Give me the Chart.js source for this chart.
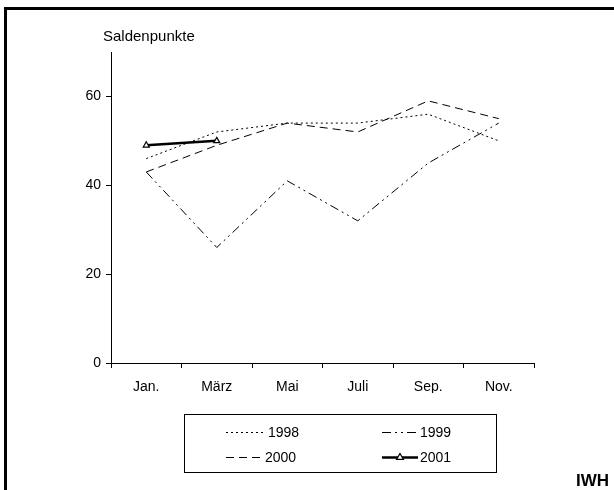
<!DOCTYPE html>
<html>
<head>
<meta charset="utf-8">
<script src="https://cdn.jsdelivr.net/npm/chart.js@4"></script>
<style>
  html, body { margin: 0; padding: 0; background: #fff; }
  canvas { display: block; }
</style>
</head>
<body>
<canvas id="chart" width="614" height="490"></canvas>
<script>
// Months shown on the x axis
const months = ["Jan.", "März", "Mai", "Juli", "Sep.", "Nov."];
const yTicks = [0, 20, 40, 60];

// Saldenpunkte per year
const y1998 = [46, 52, 54, 54, 56, 50];
const y1999 = [43, 26, 41, 32, 45, 54];
const y2000 = [43, 49, 54, 52, 59, 55];
const y2001 = [49, 50, null, null, null, null];

const FONT = "'Liberation Sans', Arial, sans-serif";

// Frame, title, legend box and the IWH mark
const extras = {
  id: "extras",
  afterDraw(chart) {
    const ctx = chart.ctx;
    ctx.save();

    // frame (top and left edges)
    ctx.fillStyle = "#000";
    ctx.fillRect(4, 7, 610, 3);
    ctx.fillRect(4, 7, 3, 483);

    // axis title
    ctx.font = "15px " + FONT;
    ctx.textBaseline = "alphabetic";
    ctx.textAlign = "left";
    ctx.fillText("Saldenpunkte", 103, 41);

    // legend
    ctx.strokeStyle = "#000";
    ctx.lineWidth = 1;
    ctx.strokeRect(184.5, 414.5, 312, 58);

    const slots = [
      { x1: 226, x2: 266, y: 432 },
      { x1: 382, x2: 418, y: 432 },
      { x1: 226, x2: 263, y: 457 },
      { x1: 382, x2: 418, y: 457 },
    ];
    ctx.font = "14px " + FONT;
    ctx.textBaseline = "middle";
    chart.data.datasets.forEach((ds, i) => {
      const s = slots[i];
      ctx.beginPath();
      ctx.setLineDash(ds.borderDash || []);
      ctx.lineWidth = ds.borderWidth;
      ctx.moveTo(s.x1, s.y + 0.5);
      ctx.lineTo(s.x2, s.y + 0.5);
      ctx.stroke();
      ctx.setLineDash([]);
      if (ds.pointRadius > 0) {
        const mx = (s.x1 + s.x2) / 2;
        const r = ds.pointRadius;
        ctx.beginPath();
        ctx.moveTo(mx, s.y - r);
        ctx.lineTo(mx + r, s.y + r * 0.7);
        ctx.lineTo(mx - r, s.y + r * 0.7);
        ctx.closePath();
        ctx.fillStyle = "#fff";
        ctx.fill();
        ctx.lineWidth = 1.2;
        ctx.stroke();
        ctx.fillStyle = "#000";
      }
      ctx.fillText(ds.label, s.x2 + 2, s.y + 1);
    });

    // source mark
    ctx.font = "bold 17px " + FONT;
    ctx.textBaseline = "alphabetic";
    ctx.fillText("IWH", 576, 486);

    ctx.restore();
  },
};

new Chart(document.getElementById("chart"), {
  type: "line",
  data: {
    labels: months,
    datasets: [
      { label: "1998", data: y1998, borderColor: "#000", borderWidth: 1, borderDash: [2, 3], pointRadius: 0 },
      { label: "1999", data: y1999, borderColor: "#000", borderWidth: 1, borderDash: [9, 4, 2, 4, 2, 4], pointRadius: 0 },
      { label: "2000", data: y2000, borderColor: "#000", borderWidth: 1, borderDash: [8, 5], pointRadius: 0 },
      {
        label: "2001", data: y2001, borderColor: "#000", borderWidth: 2.5,
        pointStyle: "triangle", pointRadius: 3.5, pointBackgroundColor: "#fff",
        pointBorderColor: "#000", pointBorderWidth: 1.2,
      },
    ],
  },
  options: {
    responsive: false,
    animation: false,
    devicePixelRatio: 1,
    layout: { padding: { left: 0, top: 52, right: 80, bottom: 97 } },
    elements: { line: { tension: 0 } },
    plugins: { legend: { display: false }, tooltip: { enabled: false } },
    scales: {
      x: {
        offset: true,
        grid: { offset: true, drawOnChartArea: false, drawTicks: true, tickLength: 5, color: "#000" },
        border: { display: true, color: "#000", width: 1 },
        ticks: { color: "#000", font: { family: FONT, size: 14 }, padding: 11 },
        afterFit: (s) => { s.height = 30; },
      },
      y: {
        min: 0,
        max: 70,
        afterBuildTicks: (s) => { s.ticks = yTicks.map((v) => ({ value: v })); },
        grid: { drawOnChartArea: false, drawTicks: true, tickLength: 5, color: "#000" },
        border: { display: true, color: "#000", width: 1 },
        ticks: { color: "#000", font: { family: FONT, size: 14 }, padding: 5 },
        afterFit: (s) => { s.width = 111; },
      },
    },
  },
  plugins: [extras],
});
</script>
</body>
</html>
